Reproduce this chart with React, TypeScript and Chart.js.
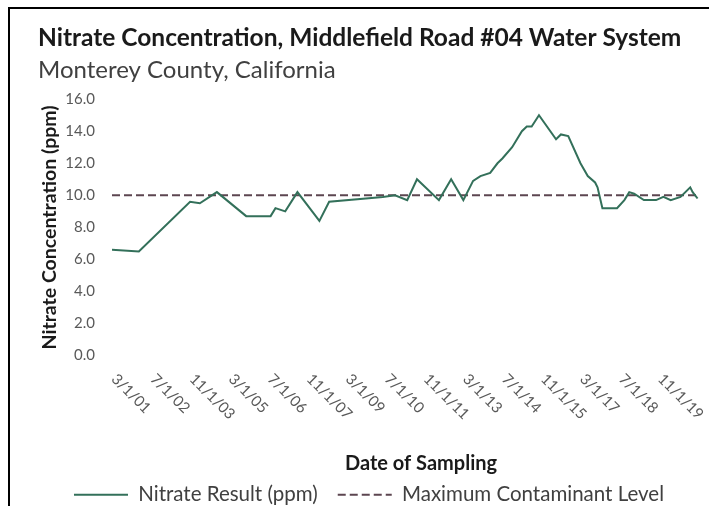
import { useEffect, useRef } from 'react';
import { Chart, registerables } from 'chart.js';

Chart.register(...registerables);

const titleText = 'Nitrate Concentration, Middlefield Road #04 Water System';
const subtitleText = 'Monterey County, California';
const yAxisTitle = 'Nitrate Concentration (ppm)';
const xAxisTitle = 'Date of Sampling';

const sampleDates = [
  '2001-03', '2002-02', '2003-11', '2004-03', '2004-10', '2005-10', '2006-08', '2006-10',
  '2007-02', '2007-07', '2008-04', '2008-08', '2010-06', '2010-11', '2011-04', '2011-08',
  '2012-05', '2012-10', '2013-03', '2013-07', '2013-10', '2014-02', '2014-05', '2014-07',
  '2014-11', '2015-03', '2015-05', '2015-07', '2015-10', '2016-05', '2016-07', '2016-10',
  '2017-03', '2017-06', '2017-09', '2017-10', '2017-12', '2018-06', '2018-09', '2018-11',
  '2019-01', '2019-05', '2019-10', '2020-01', '2020-04', '2020-08', '2020-12', '2021-01',
  '2021-03',
];
const nitrateValues = [
  6.6, 6.5, 9.6, 9.5, 10.2, 8.7, 8.7, 9.2,
  9.0, 10.2, 8.4, 9.6, 9.9, 10.0, 9.7, 11.0,
  9.7, 11.0, 9.7, 10.9, 11.2, 11.4, 12.0, 12.3,
  13.0, 14.0, 14.3, 14.3, 15.0, 13.5, 13.8, 13.7,
  12.0, 11.2, 10.8, 10.5, 9.2, 9.2, 9.7, 10.2,
  10.1, 9.7, 9.7, 9.9, 9.7, 9.9, 10.5, 10.2,
  9.8,
];
const mclDates = ['2001-03', '2021-04'];
const mclValues = [10, 10];
const xTickLabels = [
  '3/1/01', '7/1/02', '11/1/03', '3/1/05', '7/1/06', '11/1/07', '3/1/09', '7/1/10',
  '11/1/11', '3/1/13', '7/1/14', '11/1/15', '3/1/17', '7/1/18', '11/1/19',
];
const yMin = 0;
const yMax = 16;
const yStep = 2;
const xStartDate = '2001-03';
const xEndDate = '2021-04';

const FONT = 'Lato, "Open Sans", sans-serif';

const monthIndex = (ym: string) => {
  const [y, m] = ym.split('-').map(Number);
  const [y0, m0] = xStartDate.split('-').map(Number);
  return (y - y0) * 12 + (m - m0);
};
const tickMonth = (lbl: string) => {
  const [m, , y] = lbl.split('/').map(Number);
  return monthIndex(`${2000 + y}-${String(m).padStart(2, '0')}`);
};

const xLabelPlugin = {
  id: 'xLabelsRotated',
  afterDraw(chart: any) {
    const sc = chart.scales.x;
    const ctx = chart.ctx;
    ctx.save();
    ctx.font = `15px ${FONT}`;
    ctx.fillStyle = '#595959';
    ctx.textAlign = 'left';
    ctx.textBaseline = 'middle';
    xTickLabels.forEach((l) => {
      const px = sc.getPixelForValue(tickMonth(l));
      ctx.save();
      ctx.translate(px + 2, sc.top + 21);
      ctx.rotate(Math.PI / 4);
      ctx.fillText(l, 0, 0);
      ctx.restore();
    });
    // x-axis title
    const ca = chart.chartArea;
    ctx.font = `bold 20px ${FONT}`;
    ctx.fillStyle = '#1a1a1a';
    ctx.textAlign = 'center';
    ctx.textBaseline = 'middle';
    ctx.fillText(xAxisTitle, (ca.left + ca.right) / 2 + 15, sc.top + 108);
    ctx.restore();
  },
};

export default function App() {
  const ref = useRef<HTMLCanvasElement>(null);

  useEffect(() => {
    if (!ref.current) return;
    const defaultGen = (Chart as any).defaults.plugins.legend.labels.generateLabels;
    const chart = new Chart(ref.current, {
      type: 'line',
      data: {
        datasets: [
          {
            label: 'Nitrate Result (ppm)',
            data: sampleDates.map((d, i) => ({ x: monthIndex(d), y: nitrateValues[i] })),
            borderColor: '#33705a',
            backgroundColor: 'transparent',
            borderWidth: 2,
            pointRadius: 0,
            tension: 0,
          },
          {
            label: 'Maximum Contaminant Level',
            data: mclDates.map((d, i) => ({ x: monthIndex(d), y: mclValues[i] })),
            borderColor: '#5c4650',
            backgroundColor: 'transparent',
            borderWidth: 2,
            borderDash: [8, 4],
            pointRadius: 0,
          },
        ],
      },
      options: {
        animation: false,
        responsive: true,
        maintainAspectRatio: false,
        layout: { padding: { left: 28, right: 9, top: 0, bottom: 0 } },
        plugins: {
          title: {
            display: true,
            text: titleText,
            align: 'start',
            color: '#1a1a1a',
            font: { family: FONT, size: 24.5, weight: 'bold' },
            padding: { top: 14, bottom: 2 },
          },
          subtitle: {
            display: true,
            text: subtitleText,
            align: 'start',
            color: '#404040',
            font: { family: FONT, size: 24, weight: 'normal' },
            padding: { top: 1, bottom: 15 },
          },
          legend: {
            position: 'bottom',
            labels: {
              usePointStyle: true,
              pointStyle: 'line',
              pointStyleWidth: 54,
              padding: 20,
              color: '#404040',
              font: { family: FONT, size: 20.5 },
              generateLabels: (c: any) => {
                const items = defaultGen(c);
                items.forEach((it: any) => {
                  const ds = c.data.datasets[it.datasetIndex];
                  it.lineDash = ds.borderDash || [];
                  it.strokeStyle = ds.borderColor;
                  it.lineWidth = ds.borderWidth;
                });
                return items;
              },
            },
          },
          tooltip: { enabled: false },
        },
        scales: {
          x: {
            type: 'linear',
            min: monthIndex(xStartDate),
            max: monthIndex(xEndDate),
            grid: { display: false, drawTicks: false },
            border: { display: false },
            ticks: { display: false },
            afterBuildTicks: (scale: any) => {
              scale.ticks = xTickLabels.map((l) => ({ value: tickMonth(l) }));
            },
            afterFit: (scale: any) => {
              scale.height = 109;
            },
          },
          y: {
            min: yMin,
            max: yMax,
            grid: { display: false, drawTicks: false },
            border: { display: false },
            ticks: {
              stepSize: yStep,
              padding: 17,
              color: '#595959',
              font: { family: FONT, size: 15 },
              callback: (v: any) => Number(v).toFixed(1),
            },
            afterFit: (scale: any) => {
              scale.width = 74;
            },
            title: {
              display: true,
              text: yAxisTitle,
              color: '#1a1a1a',
              font: { family: FONT, size: 19.5, weight: 'bold' },
              padding: { top: 0, bottom: 0 },
            },
          },
        },
      },
      plugins: [xLabelPlugin],
    } as any);
    return () => chart.destroy();
  }, []);

  return (
    <div
      style={{
        position: 'fixed',
        left: 8,
        top: 7,
        right: 0,
        bottom: -9,
        borderTop: '2px solid #000',
        borderLeft: '2px solid #000',
        boxSizing: 'border-box',
        background: '#fff',
      }}
    >
      <div style={{ position: 'relative', width: '100%', height: '100%' }}>
        <canvas ref={ref} />
      </div>
    </div>
  );
}
